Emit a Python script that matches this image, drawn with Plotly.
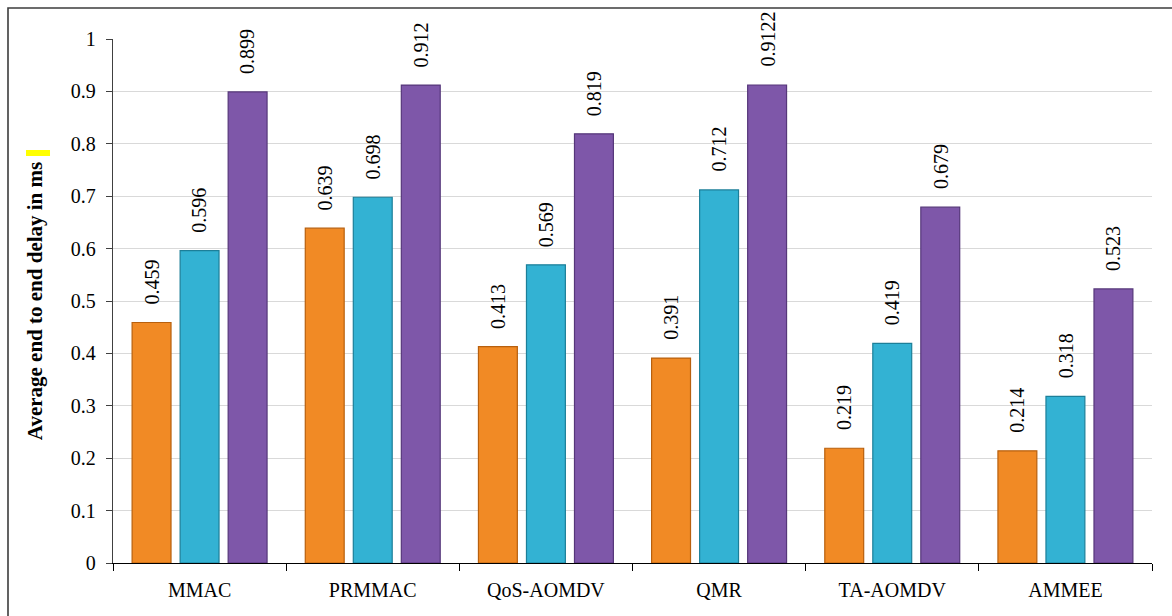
import plotly.graph_objects as go

# Protocols compared and average end-to-end delay (ms) for three scenarios
protocols = ["MMAC", "PRMMAC", "QoS-AOMDV", "QMR", "TA-AOMDV", "AMMEE"]
delay_s1 = [0.459, 0.639, 0.413, 0.391, 0.219, 0.214]
delay_s2 = [0.596, 0.698, 0.569, 0.712, 0.419, 0.318]
delay_s3 = [0.899, 0.912, 0.819, 0.9122, 0.679, 0.523]
y_ticks = [0, 0.1, 0.2, 0.3, 0.4, 0.5, 0.6, 0.7, 0.8, 0.9, 1]
y_title = "Average end to end delay in ms"

series = [
    (delay_s1, "#F18A25", "#B8600E"),
    (delay_s2, "#33B2D3", "#1C7F99"),
    (delay_s3, "#7E57A9", "#56377A"),
]

BARGAP = 0.168
BARGROUPGAP = 0.19
FONT = "Liberation Serif"

fig = go.Figure()
for vals, fill, edge in series:
    fig.add_trace(go.Bar(
        x=protocols, y=vals,
        marker=dict(color=fill, line=dict(color=edge, width=1.2)),
        showlegend=False, hoverinfo="x+y",
    ))

# Value labels written vertically above each bar
n = len(series)
slot = (1 - BARGAP) / n
annotations = []
for j, (vals, _, _) in enumerate(series):
    for i, v in enumerate(vals):
        annotations.append(dict(
            x=i + (j - (n - 1) / 2) * slot, y=v, xref="x", yref="y",
            text=f"{v:g}", textangle=-90, showarrow=False,
            xanchor="center", yanchor="bottom", yshift=16,
            font=dict(family=FONT, size=20, color="#000000"),
        ))

fig.update_layout(
    width=1172, height=616,
    margin=dict(l=113, r=20, t=39, b=53, autoexpand=False),
    paper_bgcolor="white", plot_bgcolor="white",
    barmode="group", bargap=BARGAP, bargroupgap=BARGROUPGAP,
    font=dict(family=FONT, size=20, color="#000000"),
    annotations=annotations,
    shapes=[
        # outer frame around the chart
        dict(type="rect", xref="paper", yref="paper",
             x0=(8 - 113) / 1039, x1=1.2, y0=-0.3, y1=(563 - 8) / 524,
             line=dict(color="#3C3C3C", width=1.6), layer="below"),
        # highlighter mark beside the axis title
        dict(type="rect", xref="paper", yref="paper",
             x0=(26 - 113) / 1039, x1=(50 - 113) / 1039,
             y0=(563 - 156) / 524, y1=(563 - 150) / 524,
             fillcolor="#FFFF00", line=dict(width=0)),
    ],
)

fig.update_xaxes(
    type="category", showline=True, linecolor="#000000", linewidth=1.3,
    ticks="outside", tickson="boundaries", ticklen=7, tickcolor="#000000",
    tickfont=dict(family=FONT, size=20), ticklabelstandoff=9,
    showgrid=False, automargin=False,
)
fig.update_yaxes(
    range=[0, 1], tickvals=y_ticks, ticktext=[f"{t:g}" for t in y_ticks],
    showline=True, linecolor="#404040", linewidth=1.3,
    ticks="outside", ticklen=6, tickcolor="#404040",
    showgrid=True, gridcolor="#D9D9D9", gridwidth=1.3, zeroline=False,
    tickfont=dict(family=FONT, size=20), ticklabelstandoff=6,
    title=dict(text=f"<b>{y_title}</b>", font=dict(family=FONT, size=21), standoff=22),
    automargin=False,
)

fig.write_html("out.html")
